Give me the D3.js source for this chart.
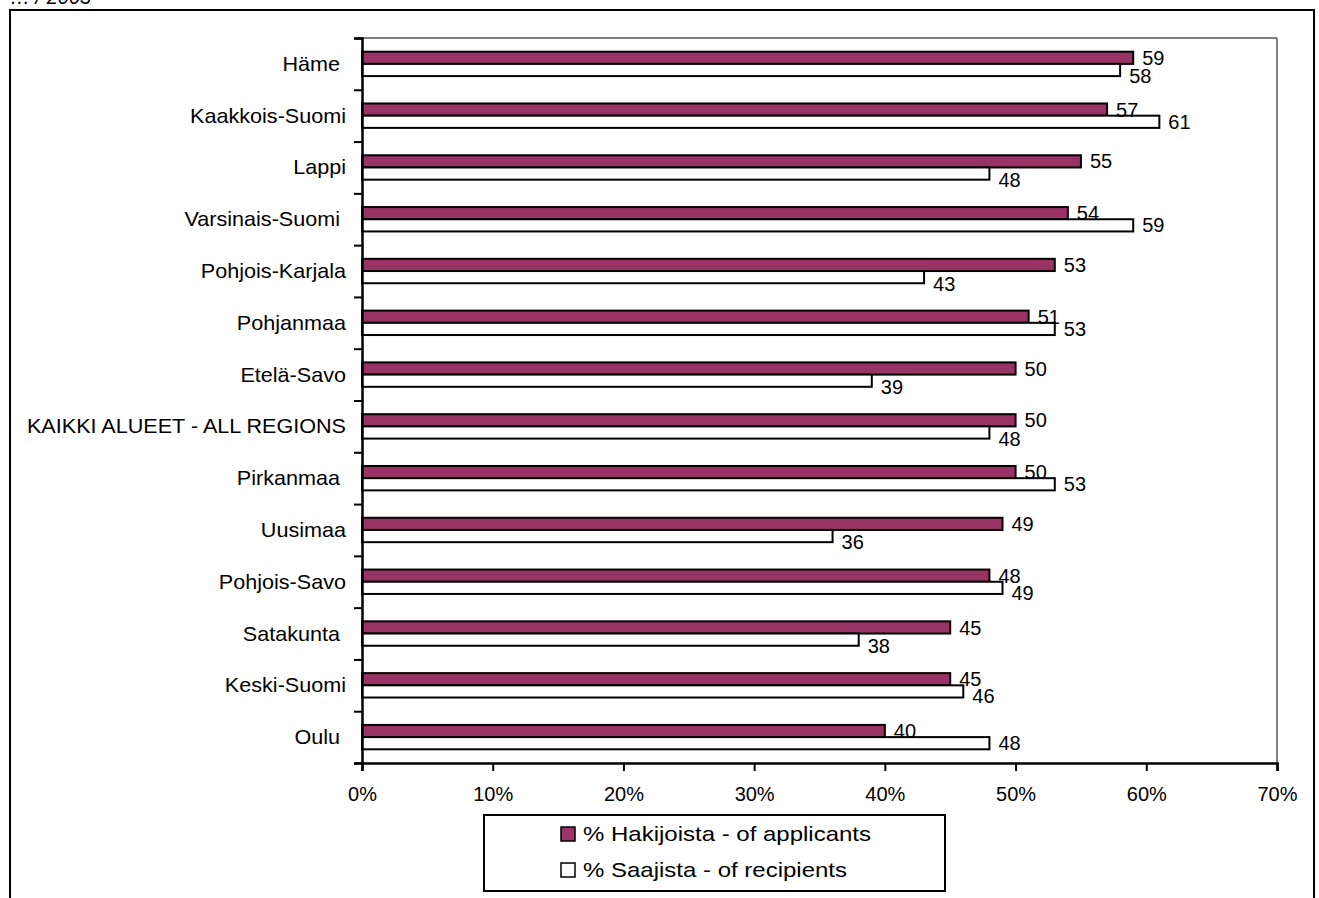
<!DOCTYPE html>
<html>
<head>
<meta charset="utf-8">
<script src="https://cdn.jsdelivr.net/npm/d3@7/dist/d3.min.js"></script>
<style>
  html, body { margin: 0; padding: 0; background: #fff; }
  svg { display: block; font-family: "Liberation Sans", Arial, sans-serif; }
  text { white-space: pre; }
</style>
</head>
<body>
<svg id="chart" width="1319" height="898"></svg>
<script>
// ---- data ----
const categories = [
  "Häme ", "Kaakkois-Suomi", "Lappi", "Varsinais-Suomi ", "Pohjois-Karjala",
  "Pohjanmaa", "Etelä-Savo", "KAIKKI ALUEET - ALL REGIONS", "Pirkanmaa ",
  "Uusimaa", "Pohjois-Savo", "Satakunta ", "Keski-Suomi", "Oulu "
];
const applicants = [59, 57, 55, 54, 53, 51, 50, 50, 50, 49, 48, 45, 45, 40];
const recipients = [58, 61, 48, 59, 43, 53, 39, 48, 53, 36, 49, 38, 46, 48];
const seriesNames = ["% Hakijoista - of applicants", "% Saajista - of recipients"];
const xTicks = [0, 10, 20, 30, 40, 50, 60, 70];
const titleFragment = "… / 2003";

(function () {
// ---- layout ----
const svg = d3.select("#chart");
const pL = 362, pR = 1277, pT = 38, pB = 763;
const fontSize = 20;
const purple = "#993366";

// outer frame
svg.append("rect").attr("x", 10).attr("y", 10).attr("width", 1304).attr("height", 920)
  .attr("fill", "none").attr("stroke", "#000").attr("stroke-width", 2);

// cut-off title
svg.append("text").attr("x", 10).attr("y", 4).attr("font-size", 20)
  .attr("font-style", "italic").text(titleFragment);

const x = d3.scaleLinear().domain([0, 70]).range([pL, pR]);
const y = d3.scaleBand().domain(categories).range([pT, pB]);
const yIdx = d3.scaleLinear().domain([0, categories.length]).range([pT, pB]);

// plot frame (top and right gray)
svg.append("line").attr("x1", pL).attr("x2", pR).attr("y1", pT).attr("y2", pT)
  .attr("stroke", "#808080").attr("stroke-width", 2);
svg.append("line").attr("x1", pR).attr("x2", pR).attr("y1", pT).attr("y2", pB)
  .attr("stroke", "#808080").attr("stroke-width", 2);

// bars
const barH = 12.2;
const data = categories.map((c, i) => ({ c, a: applicants[i], r: recipients[i] }));
const g = svg.append("g");
data.forEach(d => {
  const cy = y(d.c) + y.bandwidth() / 2;
  g.append("rect").attr("x", x(0)).attr("y", cy - barH).attr("width", x(d.a) - x(0)).attr("height", barH)
    .attr("fill", purple).attr("stroke", "#000").attr("stroke-width", 2);
  g.append("rect").attr("x", x(0)).attr("y", cy).attr("width", x(d.r) - x(0)).attr("height", barH)
    .attr("fill", "#fff").attr("stroke", "#000").attr("stroke-width", 2);
  // labels (nudged apart like the spreadsheet's automatic placement)
  g.append("text").attr("x", x(d.a) + 9).attr("y", cy - 6).attr("dy", "0.35em")
    .attr("font-size", fontSize).text(d.a);
  let off2 = 6;
  if (d.r < d.a) off2 = 12.5;
  else if (d.r - d.a <= 1) off2 = 11;
  g.append("text").attr("x", x(d.r) + 9).attr("y", cy + off2).attr("dy", "0.35em")
    .attr("font-size", fontSize).text(d.r);
});

// y axis: boundary ticks
const yAxis = svg.append("g").attr("transform", `translate(${pL},0)`)
  .call(d3.axisLeft(yIdx).tickValues(d3.range(categories.length + 1)).tickSize(8).tickFormat(""));
yAxis.select(".domain").attr("stroke", "#000").attr("stroke-width", 2.5);
yAxis.selectAll(".tick line").attr("stroke", "#000").attr("stroke-width", 2);

// category labels
svg.append("g").selectAll("text").data(categories).join("text")
  .attr("transform", d => `translate(346,${y(d) + y.bandwidth() / 2}) scale(1.08,1)`)
  .attr("dy", "0.35em")
  .attr("text-anchor", "end").attr("font-size", fontSize).text(d => d);

// x axis
const xAxis = svg.append("g").attr("transform", `translate(0,${pB})`)
  .call(d3.axisBottom(x).tickValues(xTicks).tickSize(8).tickPadding(16).tickFormat(d => d + "%"));
xAxis.select(".domain").attr("stroke", "#000").attr("stroke-width", 2.5);
xAxis.selectAll(".tick line").attr("stroke", "#000").attr("stroke-width", 2);
xAxis.selectAll("text").attr("font-size", fontSize).attr("fill", "#000")
  .attr("font-family", "Liberation Sans, Arial, sans-serif");

// legend
const lg = svg.append("g");
lg.append("rect").attr("x", 484).attr("y", 815).attr("width", 461).attr("height", 76)
  .attr("fill", "#fff").attr("stroke", "#000").attr("stroke-width", 2);
const fills = [purple, "#fff"];
seriesNames.forEach((s, i) => {
  const yy = 834 + i * 36;
  lg.append("rect").attr("x", 561).attr("y", yy - 7).attr("width", 14).attr("height", 14)
    .attr("fill", fills[i]).attr("stroke", "#000").attr("stroke-width", 1.5);
  lg.append("text").attr("transform", `translate(583,${yy}) scale(1.2,1)`).attr("dy", "0.35em")
    .attr("font-size", fontSize).text(s);
});
})();
</script>
</body>
</html>
